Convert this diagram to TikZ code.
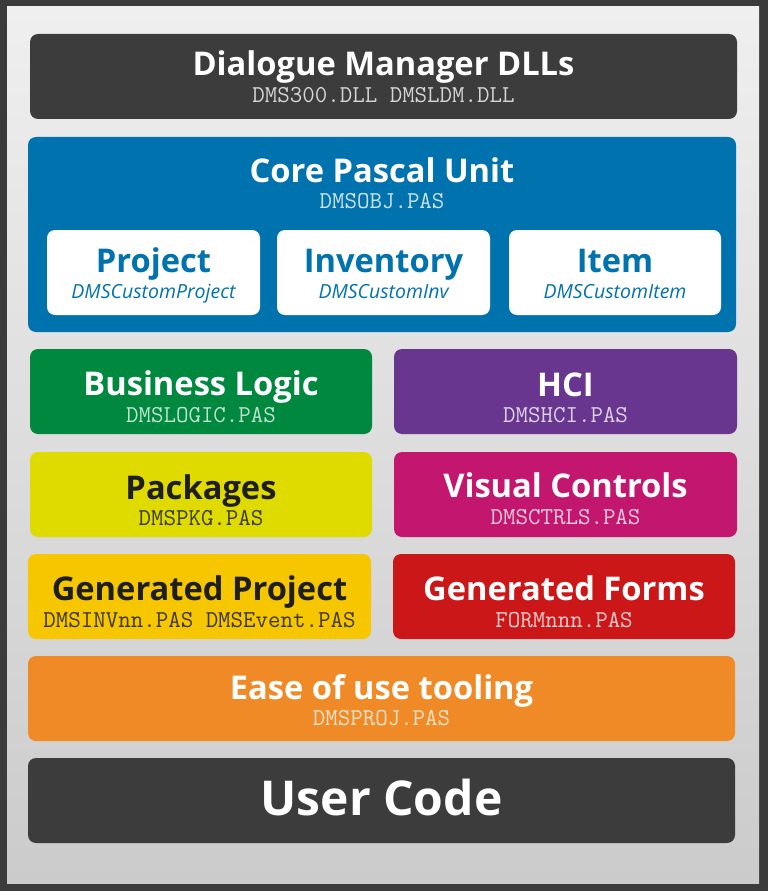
\documentclass[tikz,border=0pt]{standalone}
\usepackage{fontspec}
\setmainfont{Open Sans}
\definecolor{framegray}{HTML}{3B3B3B}
\definecolor{bgtop}{HTML}{EFEFEF}
\definecolor{bgbot}{HTML}{CBCBCB}
\definecolor{cdark}{HTML}{3C3C3C}
\definecolor{cblue}{HTML}{0072AE}
\definecolor{cgreen}{HTML}{00883F}
\definecolor{cpurple}{HTML}{68358F}
\definecolor{cyellow}{HTML}{DFDB00}
\definecolor{cmagenta}{HTML}{C3166E}
\definecolor{cgold}{HTML}{F6C700}
\definecolor{cred}{HTML}{CC1719}
\definecolor{corange}{HTML}{EF8A27}
\definecolor{ctext}{HTML}{1E1E1E}
\newcommand{\mkbox}[6]{%
  \node[layerbox, fill=#6, anchor=north west,
        minimum width={(#4-#2)*0.75pt}, minimum height={(#5-#3)*0.75pt}]
        (#1) at (#2,#3) {};}
\begin{document}
\begin{tikzpicture}[x=0.75pt,y=-0.75pt,
  layerbox/.style={rectangle, rounded corners=6pt, draw=none, inner sep=0pt, outer sep=0pt},
  ttl/.style={anchor=base, inner sep=0pt, font=\fontsize{24.5}{28}\selectfont\bfseries, text=white},
  mono/.style={anchor=base, inner sep=0pt, font=\ttfamily\fontsize{18.2}{20}\selectfont},
  subttl/.style={anchor=base, inner sep=0pt, font=\fontsize{24.5}{28}\selectfont\bfseries, text=cblue},
  subit/.style={anchor=base, inner sep=0pt, font=\fontsize{14.6}{17}\selectfont\itshape, text=cblue}]
\useasboundingbox (0,0) rectangle (768,891);
\fill[framegray] (0,0) rectangle (768,891);
\shade[top color=bgtop, bottom color=bgbot] (7,7) rectangle (759,883);

% Dialogue Manager DLLs
\mkbox{dll}{30}{34}{737}{119}{cdark}
\node[ttl] (dllT) at (383.5,76) {Dialogue Manager DLLs};
\node[mono, text=white!78!cdark] (dllM) at (383.5,103) {DMS300.DLL DMSLDM.DLL};

% Core Pascal Unit
\mkbox{core}{28}{137}{736}{332}{cblue}
\node[ttl] (coreT) at (382,183) {Core Pascal Unit};
\node[mono, text=white!80!cblue] (coreM) at (382,209) {DMSOBJ.PAS};
\mkbox{proj}{47}{230}{260}{315}{white}
\node[subttl] (projT) at (153.5,272) {Project};
\node[subit] (projM) at (153.5,298) {DMSCustomProject};
\mkbox{inv}{277}{230}{490}{315}{white}
\node[subttl] (invT) at (383.5,272) {Inventory};
\node[subit] (invM) at (383.5,298) {DMSCustomInv};
\mkbox{item}{509}{230}{721}{315}{white}
\node[subttl] (itemT) at (615,272) {Item};
\node[subit] (itemM) at (615,298) {DMSCustomItem};

% Business Logic / HCI
\mkbox{bl}{30}{349}{372}{434}{cgreen}
\node[ttl] (blT) at (201,395) {Business Logic};
\node[mono, text=white!75!cgreen] (blM) at (201,422) {DMSLOGIC.PAS};
\mkbox{hci}{394}{349}{737}{434}{cpurple}
\node[ttl] (hciT) at (565.5,396) {HCI};
\node[mono, text=white!78!cpurple] (hciM) at (565.5,422) {DMSHCI.PAS};

% Packages / Visual Controls
\mkbox{pkg}{30}{452}{372}{537}{cyellow}
\node[ttl, text=ctext] (pkgT) at (201,499) {Packages};
\node[mono, text=ctext!85!cyellow] (pkgM) at (201,525) {DMSPKG.PAS};
\mkbox{vc}{394}{452}{737}{537}{cmagenta}
\node[ttl] (vcT) at (565.5,497) {Visual Controls};
\node[mono, text=white!78!cmagenta] (vcM) at (565.5,524) {DMSCTRLS.PAS};

% Generated Project / Generated Forms
\mkbox{gp}{28}{554}{371}{639}{cgold}
\node[ttl, text=ctext] (gpT) at (199.5,600) {Generated Project};
\node[mono, text=ctext!85!cgold] (gpM) at (199.5,627) {DMSINVnn.PAS DMSEvent.PAS};
\mkbox{gf}{393}{554}{735}{639}{cred}
\node[ttl] (gfT) at (564,600) {Generated Forms};
\node[mono, text=white!78!cred] (gfM) at (564,627) {FORMnnn.PAS};

% Ease of use tooling
\mkbox{ease}{28}{656}{735}{741}{corange}
\node[ttl] (easeT) at (381.5,699) {Ease of use tooling};
\node[mono, text=white!75!corange] (easeM) at (381.5,725) {DMSPROJ.PAS};

% User Code
\mkbox{user}{28}{758}{735}{843}{cdark}
\node[ttl, font=\fontsize{36}{40}\selectfont\bfseries] (userT) at (381.5,815) {User Code};
\end{tikzpicture}
\end{document}
